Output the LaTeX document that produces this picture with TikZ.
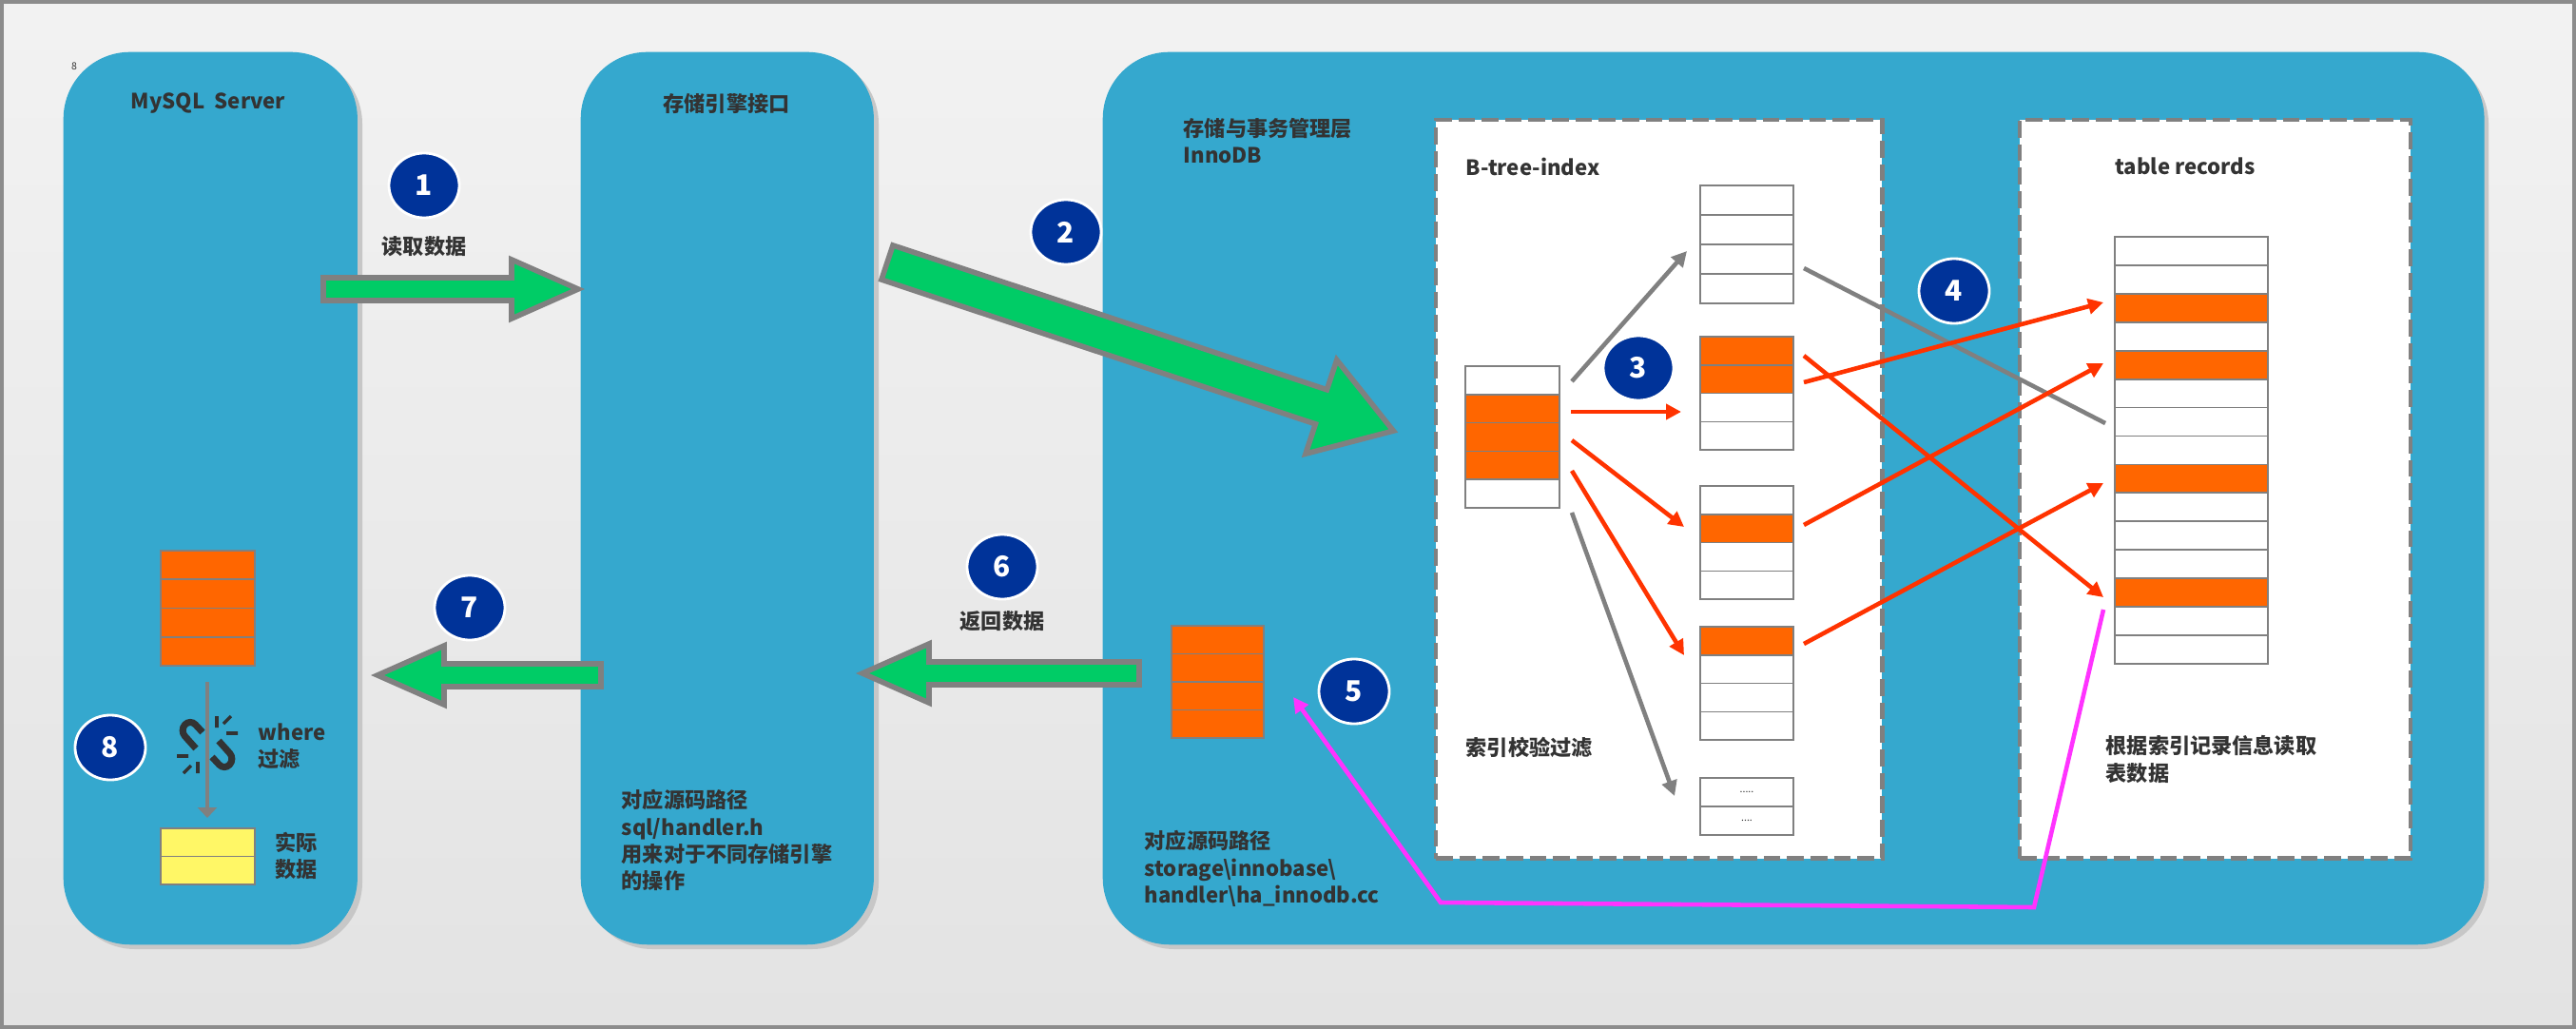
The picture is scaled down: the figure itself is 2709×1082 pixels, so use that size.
\documentclass[tikz,border=0pt]{standalone}
\usepackage{fontspec}
\setmainfont{Noto Sans CJK SC}
\usetikzlibrary{calc,shapes.geometric,arrows.meta}
\definecolor{panel}{HTML}{35A8CE}
\definecolor{org}{HTML}{FF6600}
\definecolor{grn}{HTML}{00CC66}
\definecolor{navy}{HTML}{003399}
\definecolor{txt}{HTML}{333333}
\definecolor{redarr}{HTML}{FF3300}
\definecolor{mag}{HTML}{FF33FF}
\tikzset{
 panel/.style={fill=panel,rounded corners=0.7cm,inner sep=0,anchor=north west},
 shadowp/.style={fill=black!22,rounded corners=0.7cm},
 lbl/.style={text=txt,font=\bfseries\fontsize{6.3}{8}\selectfont,inner sep=0,align=left},
 num/.style={ellipse,fill=navy,draw=white,line width=0.8pt,minimum width=0.74cm,minimum height=0.68cm,inner sep=0,text=white,font=\bfseries\fontsize{8.5}{9}\selectfont},
 blk/.style={fill=grn,draw=gray,line width=1.6pt,line join=miter},
 cell/.style={draw=gray,line width=0.5pt,inner sep=0,outer sep=0},
 dbox/.style={fill=white,draw=gray,line width=1.2pt,dash pattern=on 5pt off 2pt,inner sep=0,anchor=north west},
 garr/.style={draw=gray,line width=1.3pt,-{Triangle[length=0.16cm,width=0.16cm]}},
 rarr/.style={draw=redarr,line width=1.3pt,-{Triangle[length=0.16cm,width=0.16cm]}},
 gline/.style={draw=gray,line width=1.3pt},
}
\newcommand{\mystack}[6]{% name, x, y top, w, h, colors
 \foreach \c [count=\i] in {#6}{
  \node[cell,fill=\c,minimum width=#4*0.01cm,minimum height=#5*0.01cm,anchor=north west] (#1-\i) at (#2,{#3+(\i-1)*#5}) {};
 }}
\begin{document}
\begin{tikzpicture}[x=0.01cm,y=-0.01cm]
\useasboundingbox (0,0) rectangle (2709,1082);
\fill[top color=black!5,bottom color=black!11] (0,0) rectangle (2709,1082);
\draw[black!45,line width=1pt] (2,2) rectangle (2707,1080);
% panels
\fill[shadowp] (72,60) rectangle (381,998);
\fill[shadowp] (616,60) rectangle (924,998);
\fill[shadowp] (1165,60) rectangle (2617,998);
\node[panel,minimum width=3.09cm,minimum height=9.38cm] (p1) at (66,54) {};
\node[panel,minimum width=3.08cm,minimum height=9.38cm] (p2) at (610,54) {};
\node[panel,minimum width=14.52cm,minimum height=9.38cm] (p3) at (1159,54) {};
\node[dbox,minimum width=4.69cm,minimum height=7.76cm] (bt) at (1508,124) {};
\node[dbox,minimum width=4.11cm,minimum height=7.76cm] (tr) at (2122,124) {};
% titles
\node[lbl] (t1) at (219,109) {MySQL\ \ Server};
\node[lbl] (t2) at (764,109) {存储引擎接口};
\node[lbl,anchor=north west] (t3) at (1244,124) {存储与事务管理层\\InnoDB};
\node[lbl,anchor=west] (t4) at (1541,175) {B-tree-index};
\node[lbl] (t5) at (2298,175) {table records};
\node[text=txt,font=\fontsize{3}{3}\selectfont,inner sep=0] (tiny) at (78,70) {8};
% block arrows
\begin{scope}[shift={(340,304)}]
 \path[blk] (0,-12)--(198,-12)--(198,-31)--(268,0)--(198,31)--(198,12)--(0,12)--cycle;
\end{scope}
\begin{scope}[shift={(933,276)},rotate=-18.4]
 \path[blk] (0,-19)--(481,-19)--(481,-52)--(561,0)--(481,52)--(481,19)--(0,19)--cycle;
\end{scope}
\begin{scope}[shift={(1198,708)}]
 \path[blk] (0,-12)--(-221,-12)--(-221,-31)--(-291,0)--(-221,31)--(-221,12)--(0,12)--cycle;
\end{scope}
\begin{scope}[shift={(632,710)}]
 \path[blk] (0,-12)--(-165,-12)--(-165,-31)--(-235,0)--(-165,31)--(-165,12)--(0,12)--cycle;
\end{scope}
% numbers
\node[num] (n1) at (446,195) {1};
\node[num] (n2) at (1121,244) {2};
\node[num] (n4) at (2055,306) {4};
\node[num] (n5) at (1424,727) {5};
\node[num] (n6) at (1054,596) {6};
\node[num] (n7) at (494,639) {7};
\node[num] (n8) at (116,786) {8};
\node[lbl] (l1) at (446,259) {读取数据};
\node[lbl] (l6) at (1054,653) {返回数据};
% left panel
\mystack{ls}{169}{579}{99}{30.25}{org,org,org,org}
\mystack{ys}{169}{871}{99}{29.5}{yellow!60,yellow!60}
\coordinate (lsa) at (218,717);
\coordinate (lsb) at (218,860);
\draw[draw=gray,line width=1.3pt,-{Triangle[length=0.11cm,width=0.2cm]}] (lsa) -- (lsb);
% broken link icon
\begin{scope}[shift={(218,783)},line width=2pt,draw=black!80]
 \draw[rounded corners=0.08cm] (-5,-13) -- (-18,-27) -- (-29,-15) -- (-12,4);
 \draw[rounded corners=0.08cm] (5,13) -- (18,27) -- (29,15) -- (12,-4);
 \draw[line width=1pt] (10,-30)--(10,-18) (17,-22)--(25,-30) (20,-12)--(32,-12)
   (-10,30)--(-10,18) (-17,22)--(-25,30) (-20,12)--(-32,12);
\end{scope}
\node[lbl,anchor=west] (wh) at (271,785) {where\\过滤};
\node[lbl,anchor=west] (sj) at (289,900) {实际\\数据};
% panel2 / panel3 text
\node[lbl,anchor=north west] (s2) at (653,830) {对应源码路径\\sql/handler.h\\用来对于不同存储引擎\\的操作};
\node[lbl,anchor=north west] (s3) at (1203,873) {对应源码路径\\storage\textbackslash innobase\textbackslash\\handler\textbackslash ha\_innodb.cc};
\mystack{ps}{1232}{658}{97}{29.5}{org,org,org,org}
% btree
\mystack{root}{1541}{385}{99}{29.8}{white,org,org,org,white}
\mystack{na}{1788}{195}{98}{31}{white,white,white,white}
\mystack{nb}{1788}{354}{98}{29.8}{org,org,white,white}
\mystack{nc}{1788}{511}{98}{29.8}{white,org,white,white}
\mystack{nd}{1788}{659}{98}{29.8}{org,white,white,white}
\mystack{ne}{1788}{818}{98}{30}{white,white}
\node[font=\fontsize{3}{3}\selectfont,text=txt] at (ne-1) {.....};
\node[font=\fontsize{3}{3}\selectfont,text=txt] at (ne-2) {....};
\mystack{tb}{2224}{249}{161}{29.93}{white,white,org,white,org,white,white,white,org,white,white,white,org,white,white}
\node[lbl,anchor=west] (l3) at (1541,786) {索引校验过滤};
\node[lbl,anchor=north west] (l4) at (2214,773) {根据索引记录信息读取\\表数据};
% connectors
\coordinate (a1) at (1653,401); \coordinate (b1) at (1774,264);
\coordinate (a2) at (1652,433); \coordinate (b2) at (1768,433);
\coordinate (a3) at (1653,463); \coordinate (b3) at (1771,554);
\coordinate (a4) at (1653,495); \coordinate (b4) at (1771,689);
\coordinate (a5) at (1653,539); \coordinate (b5) at (1761,837);
\draw[garr] (a1) -- (b1);
\draw[rarr] (a2) -- (b2);
\draw[rarr] (a3) -- (b3);
\draw[rarr] (a4) -- (b4);
\draw[garr] (a5) -- (b5);
\coordinate (c0) at (1897,282); \coordinate (d0) at (2214,445);
\coordinate (c1) at (1897,402); \coordinate (d1) at (2212,318);
\coordinate (c2) at (1897,374); \coordinate (d2) at (2212,628);
\coordinate (c3) at (1897,552); \coordinate (d3) at (2212,382);
\coordinate (c4) at (1897,677); \coordinate (d4) at (2212,508);
\draw[gline] (c0) -- (d0);
\draw[rarr] (c1) -- (d1);
\draw[rarr] (c2) -- (d2);
\draw[rarr] (c3) -- (d3);
\draw[rarr] (c4) -- (d4);
\node[num] (n3) at (1723,387) {3};
\coordinate (m0) at (2212,641);
\coordinate (m1) at (2139,954);
\coordinate (m2) at (1515,949);
\coordinate (m3) at (1360,733);
\draw[mag,line width=1.3pt,-{Triangle[length=0.16cm,width=0.16cm]}] (m0) -- (m1) -- (m2) -- (m3);
\end{tikzpicture}
\end{document}
